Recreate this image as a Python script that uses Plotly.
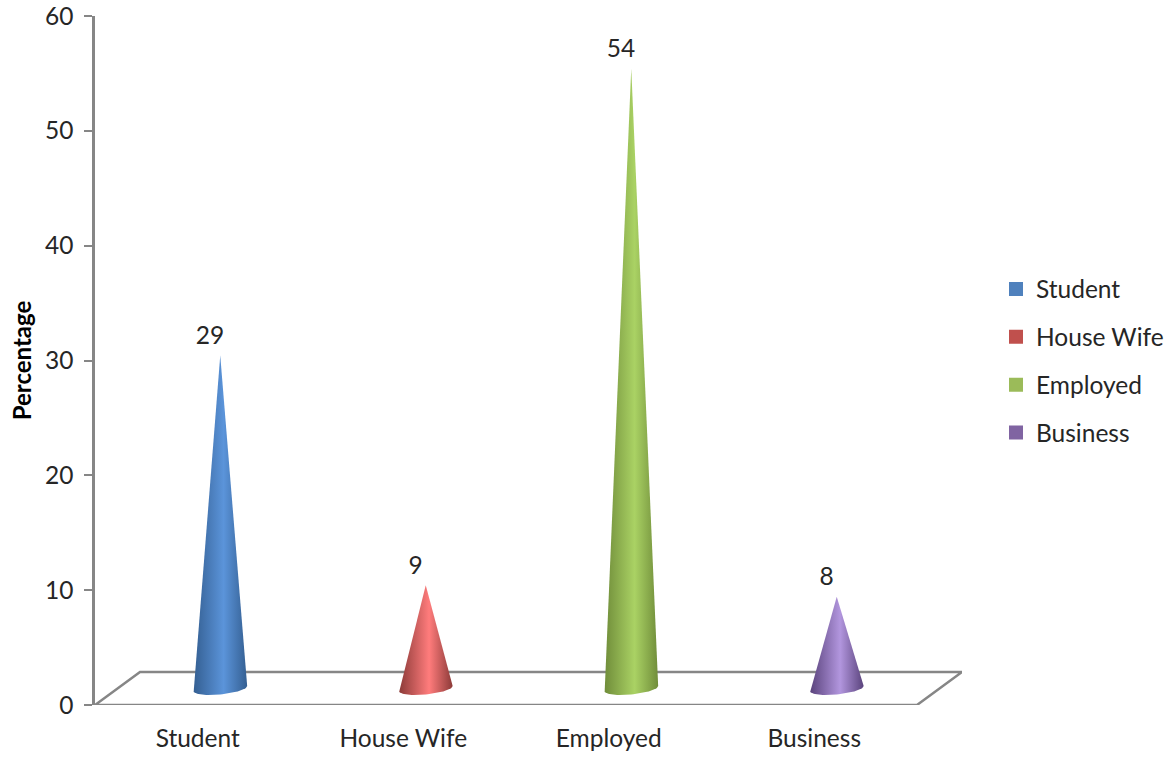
import numpy as np
import plotly.graph_objects as go

# Survey data: occupation share in percent
categories = ["Student", "House Wife", "Employed", "Business"]
values = [29, 9, 54, 8]
base_colors = ["#4F81BD", "#C0504D", "#9BBB59", "#8064A2"]
edge_colors = ["#345F92", "#8C3A38", "#708D3A", "#5A437C"]
peak_colors = ["#5B94DA", "#FF7C7C", "#AAD264", "#B296DE"]
y_ticks = [0, 10, 20, 30, 40, 50, 60]

FONT = "Lato"
TEXT = "#262626"
AXIS = "#868686"
W, H = 1169, 757

# Oblique floor offset, in axis units
DEPTH_X = 0.219
DEPTH_Y = 2.87
HALF_WIDTH = 0.131
BASE_DROP = 0.52
BASE_TILT = 0.22

fig = go.Figure()

# Floor of the pseudo-3D plot area
fig.add_trace(go.Scatter(
    x=[-0.5, -0.5 + DEPTH_X, 3.5 + DEPTH_X, 3.5, -0.5],
    y=[0, DEPTH_Y, DEPTH_Y, 0, 0],
    mode="lines", line=dict(color=AXIS, width=2.5),
    showlegend=False, hoverinfo="skip", cliponaxis=False,
))

# Cones: apex at the value, lifted onto the middle of the floor
for i, (name, v) in enumerate(zip(categories, values)):
    cx = i + DEPTH_X / 2
    lift = DEPTH_Y / 2
    t = np.linspace(0, np.pi, 41)
    base_x = cx - HALF_WIDTH * np.cos(t)
    base_y = lift - BASE_DROP * np.sin(t) - BASE_TILT * np.cos(t)
    xs = np.concatenate([[cx], base_x, [cx]])
    ys = np.concatenate([[v + lift], base_y, [v + lift]])
    fig.add_trace(go.Scatter(
        x=xs, y=ys, mode="lines", line=dict(width=0),
        fill="toself",
        fillgradient=dict(
            type="horizontal",
            colorscale=[[0, edge_colors[i]], [0.56, peak_colors[i]], [1, edge_colors[i]]],
        ),
        showlegend=False, hoverinfo="skip",
    ))
    fig.add_trace(go.Scatter(
        x=[i + 0.06], y=[v + lift + 0.45], mode="text", text=[str(v)],
        textposition="top center",
        textfont=dict(family=FONT, size=24.5, color=TEXT),
        showlegend=False, hoverinfo="skip", cliponaxis=False,
    ))

# Legend swatches
for i, name in enumerate(categories):
    fig.add_trace(go.Scatter(
        x=[None], y=[None], mode="markers", name=name, legendgroup=name,
        marker=dict(symbol="square", size=14, color=base_colors[i]),
    ))

fig.update_layout(
    width=W, height=H,
    autosize=False,
    margin=dict(l=0, r=0, t=0, b=0),
    paper_bgcolor="white", plot_bgcolor="white",
    font=dict(family=FONT, size=24.5, color=TEXT),
    legend=dict(
        x=1009 / W, xanchor="left", y=1 - 361 / H, yanchor="middle",
        font=dict(family=FONT, size=24.5, color=TEXT),
        tracegroupgap=13, itemclick=False, itemdoubleclick=False,
        indentation=-13, entrywidth=108, entrywidthmode="pixels",
        bgcolor="rgba(0,0,0,0)",
    ),
    xaxis=dict(
        domain=[95 / W, 962 / W], automargin=False,
        range=[-0.5, 3.5 + DEPTH_X], tickmode="array",
        tickvals=list(range(len(categories))), ticktext=categories,
        showgrid=False, zeroline=False, showline=False,
        ticks="outside", ticklen=12, tickcolor="rgba(0,0,0,0)",
        tickfont=dict(family=FONT, size=24.5, color=TEXT),
    ),
    yaxis=dict(
        domain=[1 - 705 / H, 1 - 16 / H], automargin=False,
        range=[0, 60], tickmode="array", tickvals=y_ticks,
        showgrid=False, zeroline=False, showline=True,
        linecolor=AXIS, linewidth=2.5,
        ticks="outside", ticklen=8, tickcolor=AXIS, tickwidth=2,
        ticklabelstandoff=6, ticklabeloverflow="allow",
        tickfont=dict(family=FONT, size=24.5, color=TEXT),
        title=dict(text="<b>Percentage</b>",
                   font=dict(family=FONT, size=24, color="black"), standoff=7),
    ),
)

fig.write_html("out.html", config=dict(displayModeBar=False))
